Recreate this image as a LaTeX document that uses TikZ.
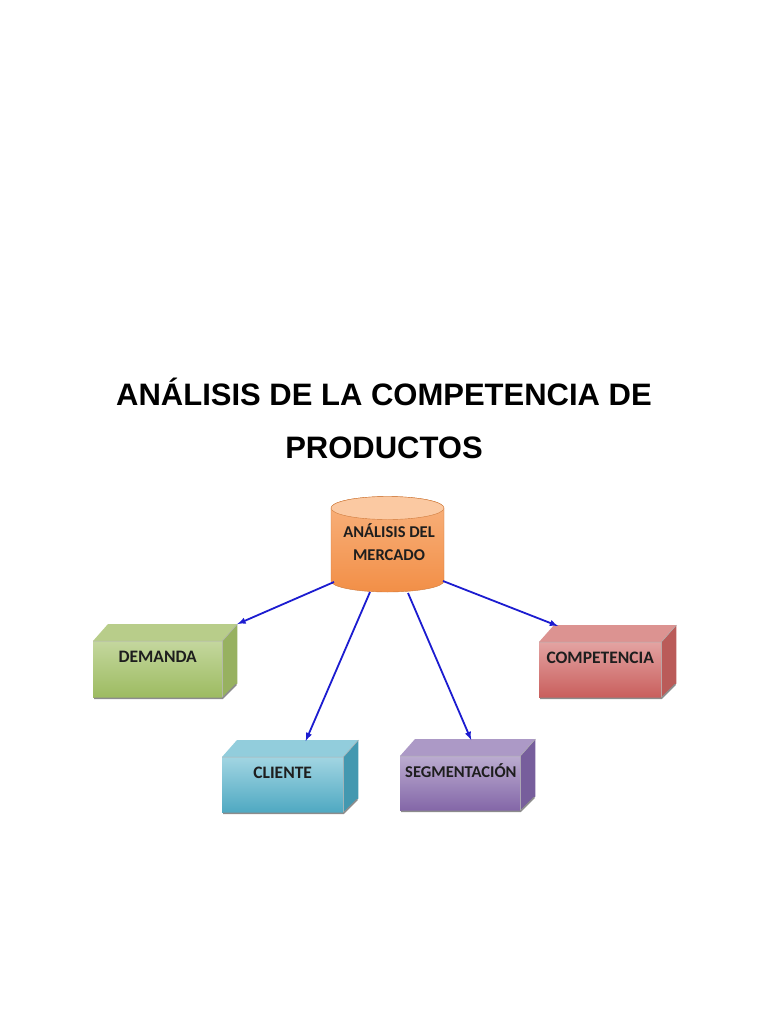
\documentclass[tikz,border=0pt]{standalone}
\usepackage{fontspec}
\setmainfont{Liberation Sans}
\newfontfamily\boxfont{Carlito}
\usetikzlibrary{calc}

\definecolor{arrowblue}{HTML}{1C1CD0}
\definecolor{boxtext}{HTML}{1E1E1E}
% green
\definecolor{grnfront}{HTML}{C4D79E}
\definecolor{grnfrontb}{HTML}{9DBB61}
\definecolor{grntop}{HTML}{B8CD8A}
\definecolor{grnside}{HTML}{97B160}
% red
\definecolor{redfront}{HTML}{E3A3A2}
\definecolor{redfrontb}{HTML}{C95F5D}
\definecolor{redtop}{HTML}{DC9391}
\definecolor{redside}{HTML}{BA5B59}
% blue
\definecolor{blufront}{HTML}{A2D5E2}
\definecolor{blufrontb}{HTML}{4FA9C2}
\definecolor{blutop}{HTML}{92CDDC}
\definecolor{bluside}{HTML}{4398B0}
% purple
\definecolor{purfront}{HTML}{BBACD0}
\definecolor{purfrontb}{HTML}{8467A8}
\definecolor{purtop}{HTML}{AC99C6}
\definecolor{purside}{HTML}{775E9C}
% orange
\definecolor{orgtop}{HTML}{F8B27E}
\definecolor{orgbot}{HTML}{F28F47}
\definecolor{orgcap}{HTML}{FBC9A2}

\tikzset{
  front/.style={rectangle, anchor=north west, inner xsep=0pt, inner ysep=0pt,
    text height=21pt, text depth=35pt, font=\boxfont\bfseries\fontsize{17.5}{18}\selectfont,
    text=boxtext},
  link/.style={draw=arrowblue, line width=1.8pt, -latex},
}

% top and side face of a box drawn on its front node
\newcommand{\boxfaces}[3]{%
  \fill[#2] (#1.north west)--++(15,-17)--($(#1.north east)+(15,-17)$)--(#1.north east)--cycle;
  \fill[#3] (#1.north east)--++(15,-17)--($(#1.south east)+(15,-14)$)--(#1.south east)--cycle;
  \draw[white!70!black, line width=0.5pt] (#1.north west)--(#1.north east)--++(15,-17) (#1.north east)--(#1.south east);
  \draw[black!45, line width=1.6pt]
    ($(#1.south west)+(1,1)$)--($(#1.south east)+(0,1)$)--($(#1.south east)+(14,-13)$);
}

\begin{document}
\begin{tikzpicture}[x=1pt, y=-1pt]
    \useasboundingbox (0,0) rectangle (768,1024);

    % title
    \node[font=\bfseries\fontsize{31}{36}\selectfont] (title1) at (384,392)
        {ANÁLISIS DE LA COMPETENCIA DE};
    \node[font=\bfseries\fontsize{31}{36}\selectfont] (title2) at (384,448)
        {PRODUCTOS};

    % cylinder
    \begin{scope}
    \shade[top color=orgtop, bottom color=orgbot, draw=orgbot!85!black, line width=0.4pt]
        (331,508)--(331,581) arc[start angle=180, end angle=360, x radius=56.5, y radius=-11]
        --(444,508) arc[start angle=0, end angle=180, x radius=56.5, y radius=-11.5]--cycle;
    \fill[orgcap, draw=orgbot!85!black, line width=0.4pt]
        (387.5,508) ellipse[x radius=56.5, y radius=11.5];
    \end{scope}
    \node[font=\boxfont\bfseries\fontsize{16.5}{23}\selectfont, text=boxtext, align=center] (mercado)
        at (389,542) {ANÁLISIS DEL\\MERCADO};
    \coordinate (m1) at (334,582);
    \coordinate (m2) at (370,592);
    \coordinate (m3) at (408,593);
    \coordinate (m4) at (443,581);

    % boxes
    \shade[top color=grnfront, bottom color=grnfrontb] (93,641) rectangle ++(129,56);
    \node[front, minimum width=129pt] (demanda) at (93,641) {DEMANDA};
    \boxfaces{demanda}{grntop}{grnside}

    \shade[top color=redfront, bottom color=redfrontb] (539,642) rectangle ++(122,55);
    \node[front, minimum width=122pt, text depth=34pt] (competencia) at (539,642) {COMPETENCIA};
    \boxfaces{competencia}{redtop}{redside}

    \shade[top color=blufront, bottom color=blufrontb] (222,757) rectangle ++(121,55);
    \node[front, minimum width=121pt, text depth=34pt] (cliente) at (222,757) {CLIENTE};
    \boxfaces{cliente}{blutop}{bluside}

    \shade[top color=purfront, bottom color=purfrontb] (400,756) rectangle ++(120,54);
    \node[front, minimum width=120pt, text depth=33pt, font=\boxfont\bfseries\fontsize{16.5}{18}\selectfont,
        text width=110pt, align=right] (segmentacion) at (400,756) {SEGMENTACIÓN};
    \boxfaces{segmentacion}{purtop}{purside}

    % arrows
    \draw[link] (m1) -- ($(demanda.north east)+(15,-17)$);
    \draw[link] (m2) -- ($(cliente.north)+(23,-16)$);
    \draw[link] (m3) -- ($(segmentacion.north)+(11,-16)$);
    \draw[link] (m4) -- ($(competencia.north west)+(19,-16)$);
\end{tikzpicture}
\end{document}
